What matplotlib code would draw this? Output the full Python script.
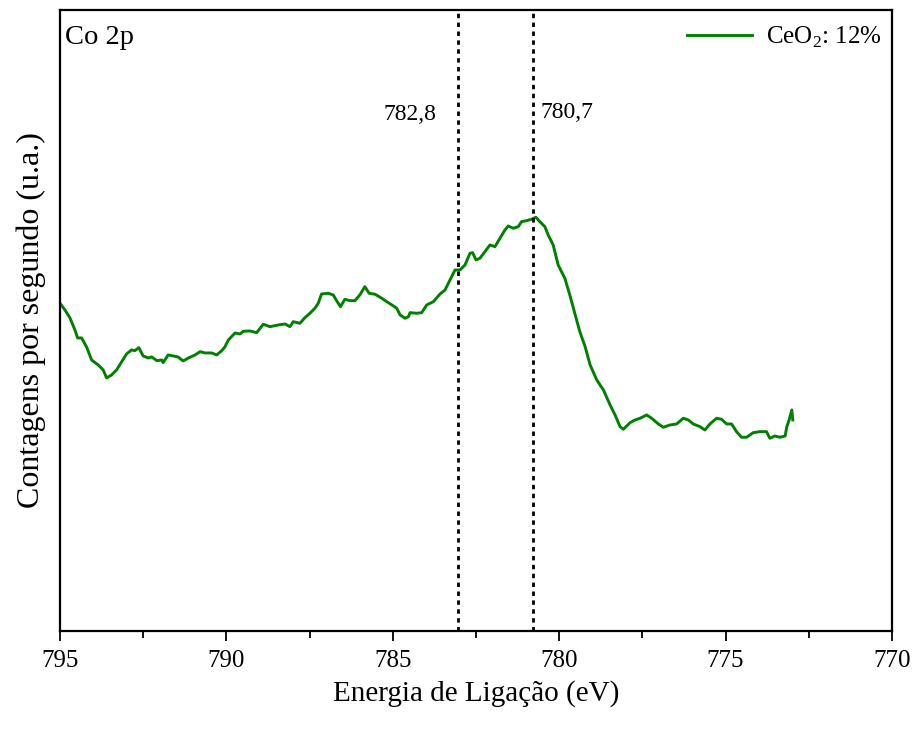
import matplotlib.pyplot as plt
from matplotlib.ticker import MultipleLocator

plt.rcParams['font.family'] = ['Liberation Serif', 'DejaVu Serif']
plt.rcParams['mathtext.fontset'] = 'custom'
plt.rcParams['mathtext.rm'] = 'Liberation Serif'

# Co 2p spectrum, CeO2 12% (arbitrary counts)
energia = [795.00, 794.85, 794.70, 794.55, 794.47, 794.35, 794.20, 794.05, 793.85, 793.70,
           793.60, 793.45, 793.30, 793.15, 793.00, 792.85, 792.75, 792.63, 792.50, 792.35,
           792.24, 792.09, 791.94, 791.90, 791.75, 791.60, 791.45, 791.30, 791.14, 790.94,
           790.79, 790.64, 790.44, 790.29, 790.14, 790.04, 789.94, 789.74, 789.59, 789.49,
           789.29, 789.09, 788.89, 788.69, 788.44, 788.24, 788.09, 787.99, 787.79, 787.64,
           787.49, 787.34, 787.24, 787.14, 786.94, 786.79, 786.67, 786.57, 786.44, 786.29,
           786.14, 785.99, 785.84, 785.71, 785.53, 785.33, 785.18, 784.98, 784.88, 784.78,
           784.63, 784.53, 784.48, 784.28, 784.13, 783.98, 783.78, 783.58, 783.43, 783.28,
           783.13, 782.98, 782.83, 782.68, 782.60, 782.50, 782.38, 782.23, 782.08, 781.93,
           781.78, 781.63, 781.53, 781.38, 781.23, 781.13, 780.98, 780.83, 780.70, 780.58,
           780.43, 780.33, 780.18, 780.03, 779.83, 779.68, 779.53, 779.38, 779.22, 779.07,
           778.87, 778.67, 778.47, 778.32, 778.17, 778.07, 777.87, 777.72, 777.57, 777.37,
           777.22, 777.02, 776.87, 776.67, 776.47, 776.27, 776.12, 775.97, 775.77, 775.62,
           775.47, 775.27, 775.12, 774.97, 774.82, 774.67, 774.52, 774.37, 774.17, 773.97,
           773.77, 773.67, 773.52, 773.37, 773.21, 773.16, 773.09, 773.01, 772.98]
contagens = [327.7, 321, 313, 301, 293, 293, 284, 271, 266, 261,
             253, 256, 261, 269, 277, 281, 280.3, 283.3, 275, 273,
             274, 270.3, 271, 268.3, 276, 275, 274, 270, 273, 276,
             279.3, 278, 278, 276, 280.3, 284.3, 291, 298, 297, 299.7,
             300, 298.3, 306.7, 304.3, 306, 307, 304.3, 309.3, 307.7, 313.3,
             317.7, 322.7, 327.7, 337, 337.7, 336, 329.3, 324.3, 331.7, 330.3,
             330.3, 336, 344.3, 337.7, 336.7, 332.7, 329.3, 325, 322.7, 316,
             312.7, 314.3, 318.3, 317.7, 318.3, 326, 329.3, 337, 341, 351,
             361, 361, 366, 377.7, 378.3, 371, 372.7, 379.3, 386, 384.3,
             392.7, 401, 405, 402.7, 404.3, 409.3, 410.3, 411.7, 413.7, 409.3,
             404.3, 396, 386, 366, 352.7, 336, 317.7, 299.3, 284.3, 266,
             251, 241, 226, 216, 204.3, 201.7, 208.3, 211, 212.7, 216,
             212.7, 207, 203.7, 206, 207, 212.7, 211, 207, 204.3, 201,
             207, 212.7, 211.7, 207, 207, 199.3, 193.7, 193.7, 198.3, 199.3,
             199.3, 192.7, 195, 193.7, 195, 204.3, 211, 221, 211]

picos = [783.05, 780.8]
picos_txt = ['782,8', '780,7']

fig = plt.figure(figsize=(9.17, 7.33), dpi=100)
ax = fig.add_axes([0.0654, 0.1392, 0.9073, 0.8472])

ax.plot(energia, contagens, color='#008000', lw=2.1, label='CeO$_2$: 12%')
for p in picos:
    ax.axvline(p, color='black', lw=2.0, linestyle=(0, (1.6, 1.6)))

ax.text(784.48, 516, picos_txt[0], ha='center', va='center', fontsize=17)
ax.text(780.55, 518, picos_txt[1], ha='left', va='center', fontsize=17)
ax.text(0.006, 0.955, 'Co 2p', transform=ax.transAxes, ha='left', va='center', fontsize=20.5)

ax.set_xlim(795, 770)
ax.set_ylim(0, 621)
ax.xaxis.set_major_locator(MultipleLocator(5))
ax.xaxis.set_minor_locator(MultipleLocator(2.5))
ax.set_yticks([])
ax.tick_params(axis='x', which='major', direction='out', length=7.5, width=1.3,
               labelsize=18, pad=6)
ax.tick_params(axis='x', which='minor', direction='out', length=5, width=1.3)
for s in ax.spines.values():
    s.set_linewidth(1.6)

ax.set_xlabel('Energia de Ligação (eV)', fontsize=21, labelpad=6)
ax.set_ylabel('Contagens por segundo (u.a.)', fontsize=23, labelpad=10)

ax.legend(loc='upper right', bbox_to_anchor=(1.0, 0.993), frameon=False, fontsize=18,
          handlelength=2.6, handletextpad=0.55, borderaxespad=0.0)

fig.savefig('out.png', dpi=100)
